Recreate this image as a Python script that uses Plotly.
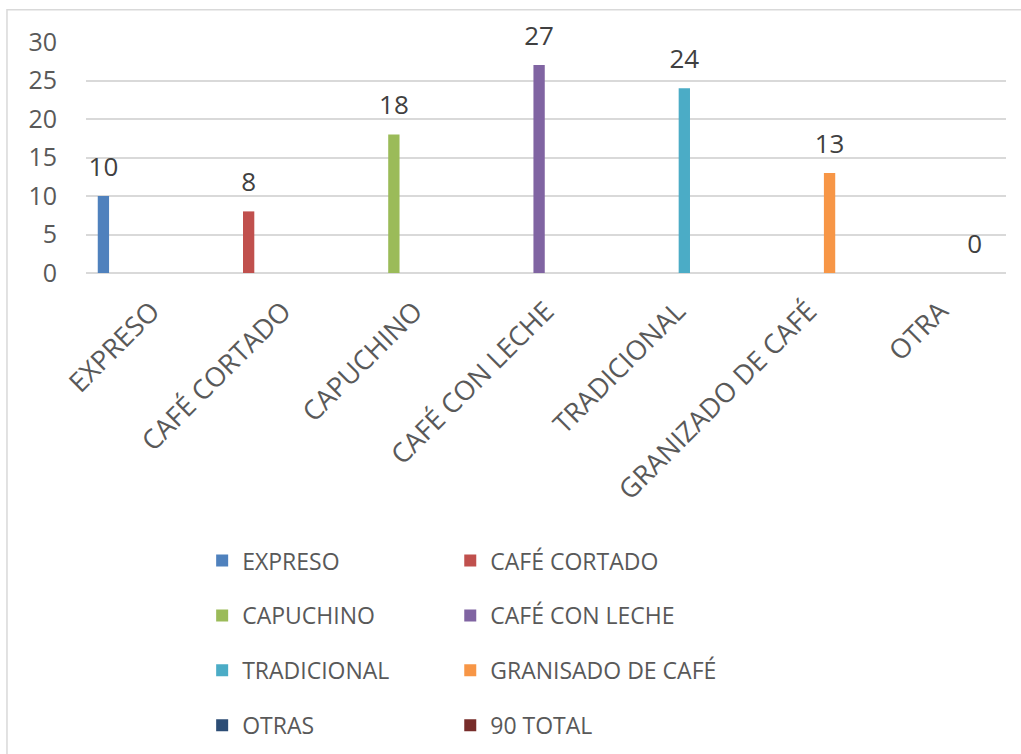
import plotly.graph_objects as go

# Categories on the horizontal axis
categories = ["EXPRESO", "CAFÉ CORTADO", "CAPUCHINO", "CAFÉ CON LECHE",
              "TRADICIONAL", "GRANIZADO DE CAFÉ", "OTRA"]

# One series per drink; each series only carries a value in its own category
series_names = ["EXPRESO", "CAFÉ CORTADO", "CAPUCHINO", "CAFÉ CON LECHE",
                "TRADICIONAL", "GRANISADO DE CAFÉ", "OTRAS", "90 TOTAL"]
series_values = [10, 8, 18, 27, 24, 13, 0, None]
series_colors = ["#4F81BD", "#C0504D", "#9BBB59", "#8064A2",
                 "#4BACC6", "#F79646", "#2C4D75", "#772C2A"]

W, H = 1021, 754
FONT = "Open Sans, DejaVu Sans, sans-serif"

fig = go.Figure()
for i, (name, val, col) in enumerate(zip(series_names, series_values, series_colors)):
    ys = [None] * len(categories)
    txt = [None] * len(categories)
    if val is not None and i < len(categories):
        ys[i] = val
        # value in large type, plus a short spacer line that lifts it off the bar
        txt[i] = f"<span style='font-size:26px'>{val}</span><br>\u00a0"
    fig.add_trace(go.Bar(
        x=categories, y=ys, name=name,
        marker=dict(color=col, line=dict(width=0)),
        text=txt, texttemplate="%{text}", textposition="outside",
        textfont=dict(family=FONT, size=11, color="#404040"),
        constraintext="none",
        cliponaxis=False,
        legend="legend" if i % 2 == 0 else "legend2",
        legendgroup=name,
        hoverinfo="skip",
    ))

fig.update_layout(
    width=W, height=H,
    margin=dict(l=86, r=15, t=42, b=481, autoexpand=False),
    paper_bgcolor="white", plot_bgcolor="white",
    barmode="group", bargap=0.16, bargroupgap=0.18,
    showlegend=True,
    legend=dict(
        xref="container", yref="container", x=0.198, y=0.285,
        xanchor="left", yanchor="top", orientation="v",
        font=dict(family=FONT, size=23, color="#595959"),
        tracegroupgap=22, bgcolor="rgba(0,0,0,0)",
    ),
    legend2=dict(
        xref="container", yref="container", x=0.441, y=0.285,
        xanchor="left", yanchor="top", orientation="v",
        font=dict(family=FONT, size=23, color="#595959"),
        tracegroupgap=22, bgcolor="rgba(0,0,0,0)",
    ),
    xaxis=dict(
        type="category", tickangle=-45,
        tickfont=dict(family=FONT, size=27, color="#595959"),
        showgrid=False, showline=False, ticks="",
        ticklabelstandoff=16,
    ),
    yaxis=dict(
        range=[0, 30], dtick=5, tick0=0,
        tickfont=dict(family=FONT, size=25, color="#595959"),
        showgrid=True, gridcolor="#D9D9D9", gridwidth=1.5,
        zeroline=True, zerolinecolor="#D9D9D9", zerolinewidth=1.5,
        showline=False, ticks="", ticklabelstandoff=28,
    ),
    shapes=[dict(
        type="rect", xref="paper", yref="paper",
        x0=-0.0859, x1=1.2, y0=-3.0, y1=1.14,
        line=dict(color="#D9D9D9", width=1.5), fillcolor="rgba(0,0,0,0)",
        layer="below",
    )],
)

fig.write_html("out.html")
